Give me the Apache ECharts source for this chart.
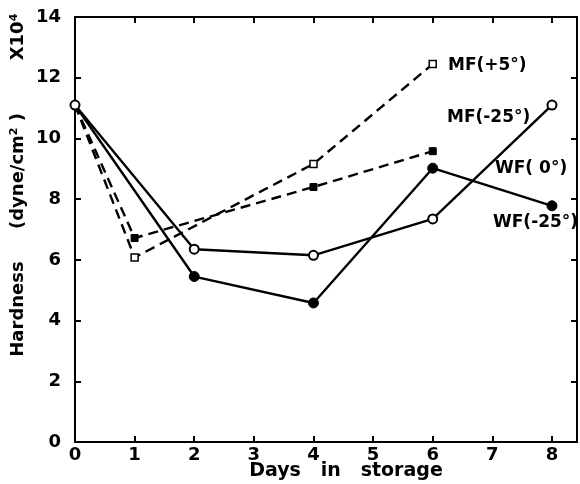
<!DOCTYPE html>
<html><head><meta charset="utf-8">
<script src="https://cdn.jsdelivr.net/npm/echarts@6/dist/echarts.min.js"></script>
<style>html,body{margin:0;padding:0;background:#fff}#c{width:580px;height:484px}</style>
</head><body><div id="c"></div>
<script>
var wf0Days = [0, 2, 4, 6, 8];
var wf0Vals = [11.1, 6.35, 6.15, 7.35, 11.1];
var wf25Days = [0, 2, 4, 6, 8];
var wf25Vals = [11.1, 5.45, 4.58, 9.02, 7.78];
var mf5Days = [0, 1, 4, 6];
var mf5Vals = [11.1, 6.08, 9.16, 12.45];
var mf25Days = [0, 1, 4, 6];
var mf25Vals = [11.1, 6.72, 8.4, 9.58];
var xTicks = [0, 1, 2, 3, 4, 5, 6, 7, 8];
var yTicks = [0, 2, 4, 6, 8, 10, 12, 14];
var seriesNames = ['MF(+5°)', 'MF(-25°)', 'WF( 0°)', 'WF(-25°)'];

function pts(d, v, hideFirst) {
  return d.map(function (x, i) {
    var o = { value: [x, v[i]] };
    if (i === 0 && hideFirst) o.symbol = 'none';
    return o;
  });
}
var FONT = 'DejaVu Sans';
var chart = echarts.init(document.getElementById('c'));
var axisLine = { onZero: false, lineStyle: { color: '#000', width: 2 } };
var tick = { inside: true, length: 6, lineStyle: { color: '#000', width: 2 } };
var LW = 2.4;
var DASH = [10, 6];
chart.setOption({
  animation: false,
  backgroundColor: '#fff',
  grid: { left: 75, top: 17, right: 3, bottom: 42 },
  xAxis: [{
    type: 'value', min: 0, max: 8.42, interval: 1, position: 'bottom',
    axisLine: axisLine, axisTick: tick, splitLine: { show: false },
    axisLabel: { color: '#000', fontFamily: FONT, fontWeight: 'bold', fontSize: 18, margin: 4, showMaxLabel: false,
      formatter: function (v) { return xTicks.indexOf(v) >= 0 ? String(v) : ''; } }
  }, {
    type: 'value', min: 0, max: 8.42, interval: 1, position: 'top',
    axisLine: axisLine, axisTick: tick, splitLine: { show: false }, axisLabel: { show: false }
  }],
  yAxis: [{
    type: 'value', min: 0, max: 14, interval: 2, position: 'left',
    axisLine: axisLine, axisTick: tick, splitLine: { show: false },
    axisLabel: { color: '#000', fontFamily: FONT, fontWeight: 'bold', fontSize: 18, margin: 14,
      formatter: function (v) { return yTicks.indexOf(v) >= 0 ? String(v) : ''; } }
  }, {
    type: 'value', min: 0, max: 14, interval: 2, position: 'right',
    axisLine: axisLine, axisTick: tick, splitLine: { show: false }, axisLabel: { show: false }
  }],
  series: [{
    name: seriesNames[0], type: 'line', data: pts(mf5Days, mf5Vals, true),
    symbol: 'rect', symbolSize: 7,
    itemStyle: { color: '#fff', borderColor: '#000', borderWidth: 1.5 },
    lineStyle: { color: '#000', width: LW, type: DASH }, z: 3
  }, {
    name: seriesNames[1], type: 'line', data: pts(mf25Days, mf25Vals, true),
    symbol: 'rect', symbolSize: 7,
    itemStyle: { color: '#000', borderColor: '#000', borderWidth: 1 },
    lineStyle: { color: '#000', width: LW, type: DASH }, z: 3
  }, {
    name: seriesNames[3], type: 'line', data: pts(wf25Days, wf25Vals, true),
    symbol: 'circle', symbolSize: 10,
    itemStyle: { color: '#000', borderColor: '#000', borderWidth: 1 },
    lineStyle: { color: '#000', width: LW }, z: 4
  }, {
    name: seriesNames[2], type: 'line', data: pts(wf0Days, wf0Vals, false),
    symbol: 'circle', symbolSize: 9,
    itemStyle: { color: '#fff', borderColor: '#000', borderWidth: 2 },
    lineStyle: { color: '#000', width: LW }, z: 5
  }],
  graphic: [
    { type: 'text', left: 448, top: 57, z: 10, style: { text: seriesNames[0], fill: '#000', font: 'bold 17px "DejaVu Sans"' } },
    { type: 'text', left: 447, top: 109, z: 10, style: { text: seriesNames[1], fill: '#000', font: 'bold 17px "DejaVu Sans"' } },
    { type: 'text', left: 495, top: 160, z: 10, style: { text: seriesNames[2], fill: '#000', font: 'bold 17px "DejaVu Sans"' } },
    { type: 'text', left: 493, top: 214, z: 10, style: { text: seriesNames[3], fill: '#000', font: 'bold 17px "DejaVu Sans"' } },
    { type: 'text', x: 346, y: 471, style: { text: 'Days   in   storage', fill: '#000', font: 'bold 19px "DejaVu Sans"', textAlign: 'center', textVerticalAlign: 'middle' } },
    { type: 'text', x: 18, y: 309, rotation: Math.PI / 2, style: { text: 'Hardness', fill: '#000', font: 'bold 18px "DejaVu Sans"', textAlign: 'center', textVerticalAlign: 'middle' } },
    { type: 'text', x: 18, y: 171, rotation: Math.PI / 2, style: { text: '(dyne/cm{s|2} )', fill: '#000', font: 'bold 18px "DejaVu Sans"', textAlign: 'center', textVerticalAlign: 'middle',
      rich: { s: { font: 'bold 11px "DejaVu Sans"', verticalAlign: 'top', padding: [0, 0, 8, 0] } } } },
    { type: 'text', x: 18, y: 37, rotation: Math.PI / 2, style: { text: 'X10{s|4}', fill: '#000', font: 'bold 18px "DejaVu Sans"', textAlign: 'center', textVerticalAlign: 'middle',
      rich: { s: { font: 'bold 11px "DejaVu Sans"', verticalAlign: 'top', padding: [0, 0, 8, 0] } } } }
  ]
});
</script>
</body></html>
